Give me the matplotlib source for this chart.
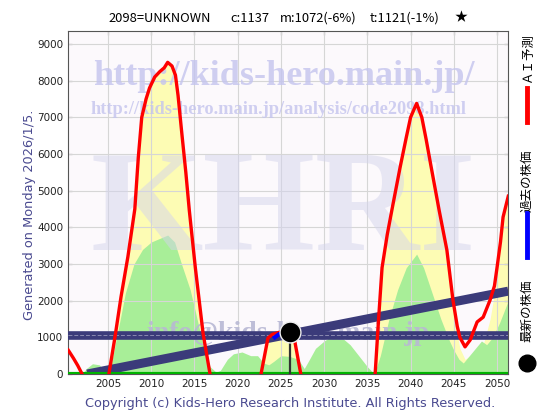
import numpy as np
import matplotlib
matplotlib.use('Agg')
from matplotlib import pyplot as plt

# AI予測 (red) - values below 0 are hidden under the axis
red_years = [2000.4, 2001.0, 2001.5, 2002.0, 2002.6, 2003.5, 2004.4, 2005.1, 2005.8, 2006.5,
             2007.3, 2008.1, 2008.5, 2008.9, 2009.4, 2009.8, 2010.4, 2011.0, 2011.5, 2011.9,
             2012.4, 2012.8, 2013.1, 2013.5, 2014.0, 2014.4, 2015.1, 2016.0, 2016.8, 2017.6,
             2019.5, 2021.5, 2022.7, 2023.5, 2024.0, 2025.0, 2026.0, 2026.6, 2027.3, 2028.2,
             2031.0, 2034.5, 2035.9, 2036.3, 2036.7, 2037.3, 2037.9, 2038.8, 2039.5, 2040.0,
             2040.7, 2041.3, 2041.8, 2042.3, 2043.3, 2044.2, 2044.9, 2045.4, 2045.7, 2046.3,
             2046.9, 2047.7, 2048.4, 2049.2, 2049.7, 2050.0, 2050.4, 2050.7, 2051.3]
red_vals = [650, 430, 230, 0, -400, -700, -400, 0, 1000, 2100,
            3200, 4500, 5900, 7000, 7500, 7800, 8100, 8250, 8350, 8500,
            8400, 8150, 7600, 6650, 5500, 4470, 2900, 1100, 0, -1000,
            -1600, -1000, 0, 980, 1080, 1150, 1050, 900, 0, -900,
            -1600, -900, 0, 1500, 2900, 3800, 4550, 5650, 6450, 7000,
            7380, 7000, 6400, 5750, 4470, 3380, 2020, 1300, 1000, 740,
            930, 1420, 1550, 2020, 2400, 2900, 3600, 4280, 4850]
# yellow band (same years as red)
yellow_vals = [0, 0, 0, 0, 0, 0, 0, 0, 1000, 2100,
               3200, 4500, 5900, 7000, 7500, 7800, 8100, 8250, 8350, 8500,
               8400, 8150, 7600, 6650, 5500, 4470, 2900, 1100, 0, 0,
               0, 0, 0, 980, 1080, 1150, 1050, 900, 0, 0,
               0, 0, 0, 1500, 2900, 3800, 4550, 5650, 6450, 7000,
               7380, 7000, 6400, 5750, 4470, 3380, 2020, 1100, 700, 400,
               500, 650, 800, 1500, 2200, 2900, 3600, 4280, 4850]

# green band
green_years = [2000.4, 2002.0, 2002.5, 2003.2, 2004.0, 2004.6, 2005.0, 2005.4, 2006.0, 2007.0,
               2008.0, 2009.0, 2010.0, 2011.0, 2011.9, 2012.7, 2013.5, 2014.5, 2015.3, 2016.0,
               2016.8, 2017.5, 2018.0, 2018.8, 2019.5, 2020.5, 2021.5, 2022.3, 2023.0, 2023.6,
               2024.2, 2025.0, 2026.0, 2027.0, 2027.7, 2028.3, 2029.0, 2030.0, 2031.0, 2032.0,
               2033.0, 2034.0, 2035.0, 2035.8, 2036.5, 2037.5, 2038.5, 2039.5, 2040.7, 2041.5,
               2042.5, 2043.5, 2044.5, 2045.0, 2045.6, 2046.1, 2046.8, 2047.5, 2048.2, 2048.8,
               2049.5, 2050.3, 2051.3]
green_vals = [0, 0, 150, 280, 250, 80, 50, 300, 1000, 2200,
              3000, 3400, 3600, 3700, 3790, 3600, 3000, 2300, 1500, 800,
              200, 50, 100, 400, 550, 600, 500, 500, 300, 250,
              350, 500, 480, 400, 150, 400, 700, 900, 1050, 1000,
              800, 500, 200, 0, 500, 1500, 2300, 2900, 3270, 2900,
              2200, 1500, 900, 650, 400, 300, 500, 700, 900, 800,
              1000, 1400, 2000]

# 過去の株価 (blue)
past_years = [2024.3, 2024.8, 2025.3, 2025.9]
past_vals = [1000, 1090, 1110, 1120]

# 最新の株価
latest_year = 2026.04
latest_val = 1137

# thick navy lines
mean_val = 1072
trend_years = [2002.6, 2051.3]
trend_vals = [0, 2260]

xticks = [2005, 2010, 2015, 2020, 2025, 2030, 2035, 2040, 2045, 2050]
yticks = [0, 1000, 2000, 3000, 4000, 5000, 6000, 7000, 8000, 9000]

title_parts = ['2098=UNKNOWN', 'c:1137', 'm:1072(-6%)', 't:1121(-1%)', '\u2605']
title_x = [108, 230, 280, 370, 455]
jp = ['Noto Sans CJK JP', 'DejaVu Sans']
navy = '#3b3b7a'

fig = plt.figure(figsize=(5.6, 4.2), dpi=100)
ax = fig.add_axes([68/560, 46/420, 440/560, 343/420])
ax.set_facecolor('#fcf9fc')

ry = np.array(red_vals, dtype=float)
yy = np.array(yellow_vals, dtype=float)
gy = np.array(green_vals, dtype=float)

ax.fill_between(red_years, 0, yy, color='#fdfcb4', lw=0, zorder=1)
ax.fill_between(green_years, 0, gy, color='#a8ee98', lw=0, zorder=2)

for x in xticks:
    ax.axvline(x, color='#d6d6d6', lw=0.8, zorder=2.5)
for y in yticks[1:]:
    ax.axhline(y, color='#d6d6d6', lw=0.8, zorder=2.5)

# watermarks
wm = dict(transform=ax.transAxes, ha='center', va='baseline', family='Liberation Serif',
          fontweight='bold', zorder=3)
ax.text(0.49, 0.843, 'http://kids-hero.main.jp/', fontsize=26, color='#c4c4ee', alpha=0.8, **wm)
ax.text(0.478, 0.757, 'http://kids-hero.main.jp/analysis/code2098.html', fontsize=13.2,
        color='#c4c4ee', alpha=0.8, **wm)
ax.text(0.489, 0.362, 'KHRI', fontsize=104, color='#d4d4ec', alpha=0.5, **wm)
ax.text(0.5, 0.099, 'info@kids-hero.main.jp', fontsize=20, color='#b8b8d4', alpha=0.9, **wm)

ax.axhline(mean_val, color=navy, lw=6.2, zorder=4)
ax.axhline(mean_val, color='#8a8ab0', lw=0.7, ls=(0, (4, 2)), zorder=4.1)
ax.plot(trend_years, trend_vals, color=navy, lw=6.5, solid_capstyle='butt', zorder=4)

ax.axhline(0, color='#00b400', lw=3, zorder=5)
ax.plot(red_years, ry, color='#ff0000', lw=2.4, zorder=5)
ax.plot(past_years, past_vals, color='#0000ff', lw=3, zorder=6)
ax.plot([latest_year, latest_year], [0, latest_val], color='#333333', lw=1.6, zorder=6)
ax.plot([latest_year], [latest_val], 'o', color='black', ms=15, mec='#eeeeee', mew=1, zorder=7)

ax.set_xlim(2000.37, 2051.27)
ax.set_ylim(0, 9355)
ax.set_xticks(xticks)
ax.set_yticks(yticks)
ax.tick_params(labelsize=7.5, colors='#222222', direction='in', length=3,
               top=True, right=True)
for s in ax.spines.values():
    s.set_color('#555555')
    s.set_linewidth(0.8)

for part, px in zip(title_parts, title_x):
    fig.text(px/560, 1 - 18/420, part, ha='left', va='center', fontsize=9.3, family=jp)
fig.text(30/560, 1 - 215/420, 'Generated on Monday 2026/1/5.', rotation=90, ha='center',
         va='center', fontsize=9.3, color='#4a4a90')
fig.text(290/560, 1 - 403/420, 'Copyright (c) Kids-Hero Research Institute. All Rights Reserved.',
         ha='center', va='center', fontsize=9.3, color='#4a4a90')

# right legend (rotated)
fig.text(527/560, 1 - 58/420, '\uff21\uff29予測', rotation=90, ha='center', va='center',
         fontsize=9, family=jp)
fig.add_artist(plt.Line2D([527/560, 527/560], [1 - 122/420, 1 - 88/420], color='#ff0000', lw=3.5))
fig.text(527/560, 1 - 181/420, '過去の株価', rotation=90, ha='center', va='center',
         fontsize=9, family=jp)
fig.add_artist(plt.Line2D([527/560, 527/560], [1 - 257/420, 1 - 213/420], color='#0000ff', lw=3.5))
fig.text(527/560, 1 - 311/420, '最新の株価', rotation=90, ha='center', va='center',
         fontsize=9, family=jp)
fig.add_artist(plt.Line2D([527/560], [1 - 363/420], marker='o', color='black', ms=12))

fig.savefig('out.png', dpi=100, facecolor='white')
